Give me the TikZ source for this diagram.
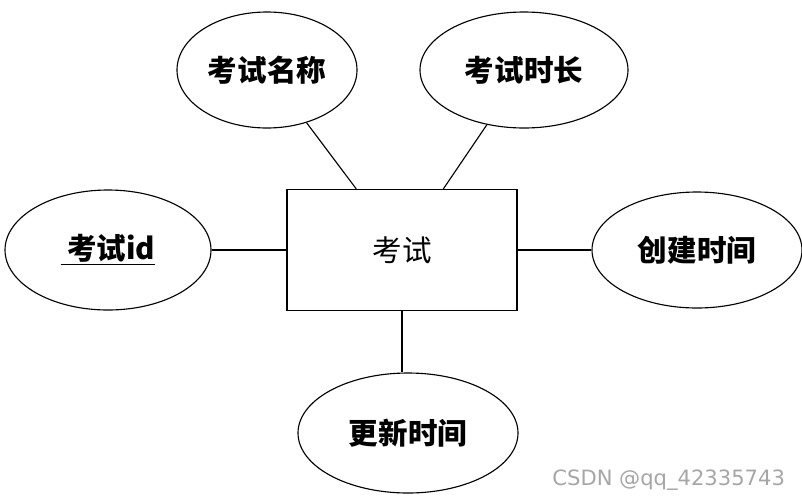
\documentclass[tikz,border=0pt]{standalone}
\usepackage{fontspec}
\newfontfamily\cjk{Noto Sans CJK SC}
\usetikzlibrary{shapes.geometric, positioning}
\tikzset{
  attr/.style = {ellipse, draw, thick, inner sep=0pt, font=\cjk\bfseries\fontsize{21}{21}\selectfont},
  entity/.style = {rectangle, draw, thick, font=\cjk\fontsize{21}{21}\selectfont},
  link/.style = {thick}
}
\begin{document}
\begin{tikzpicture}[x=0.025cm, y=-0.025cm]
  \useasboundingbox (0,0) rectangle (802,501);
  % entity
  \node[entity, minimum width=230*0.025cm, minimum height=121*0.025cm] (exam) at (402,250) {考试};
  % attributes
  \node[attr, minimum width=180*0.025cm, minimum height=116*0.025cm] (name) at (267,70) {考试名称};
  \node[attr, minimum width=208*0.025cm, minimum height=116*0.025cm] (duration) at (524,70) {考试时长};
  \node[attr, minimum width=206*0.025cm, minimum height=120*0.025cm] (id) at (108,250) {\underline{\ 考试id}};
  \node[attr, minimum width=210*0.025cm, minimum height=116*0.025cm] (created) at (697,250) {创建时间};
  \node[attr, minimum width=220*0.025cm, minimum height=120*0.025cm] (updated) at (408,433) {更新时间};
  % links
  \draw[link] (name) -- (exam);
  \draw[link] (duration) -- (exam);
  \draw[link] (id) -- (exam);
  \draw[link] (created) -- (exam);
  \coordinate (top) at (exam.south |- updated.north);
  \draw[link] (exam.south) -- (top);
  \node[text=black!35, font=\fontspec{DejaVu Sans}\fontsize{15}{15}\selectfont, anchor=east] (mark) at (790,480) {CSDN @qq\_42335743};
\end{tikzpicture}
\end{document}
